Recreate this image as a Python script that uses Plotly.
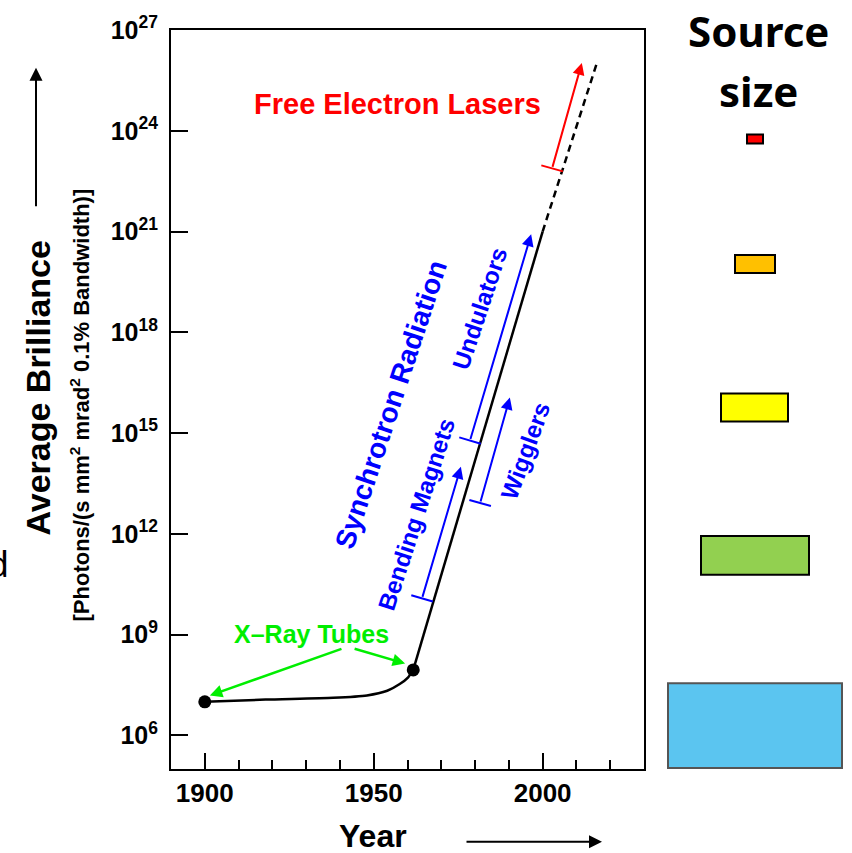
import math
import plotly.graph_objects as go

# ---------------- data ----------------
tube_years = [1900, 1918, 1938, 1948, 1954, 1957.7, 1960.2, 1961.7]
tube_brill = [1.0e7, 1.17e7, 1.32e7, 1.55e7, 2.14e7, 3.39e7, 5.37e7, 8.9e7]

sync_years = [1961.7, 2000]
sync_brill = [8.9e7, 1.0e21]

fel_trend_years = [2000, 2016]
fel_trend_brill = [1.0e21, 1.0e26]

dot_years = [1900, 1961.7]
dot_brill = [1.0e7, 8.9e7]

# arrows: [tail, tip]
bm_years = [1964.3, 1975.8]
bm_brill = [1.2e10, 1.0e14]
und_years = [1978.5, 1996.6]
und_brill = [6.0e14, 8.3e20]
wig_years = [1981.5, 1990.3]
wig_brill = [8.3e12, 1.15e16]
fel_years = [2002.8, 2011.6]
fel_brill = [7.6e22, 1.05e26]

xray_tail_years = [1940.9, 1943.9]
xray_tail_brill = [3.9e8, 3.9e8]
xray_tip_years = [1901.5, 1959.3]
xray_tip_brill = [1.55e7, 1.38e8]

x_tick_vals = [1900, 1950, 2000]
x_tick_text = ["1900", "1950", "2000"]
y_tick_exps = [6, 9, 12, 15, 18, 21, 24, 27]

# ---------------- layout geometry ----------------
W, H = 852, 853
L, R, T, B = 171, 208, 27, 84
PW, PH = W - L - R, H - T - B
XR = [1890, 2030]
YR = [5, 27]
FONT = "Liberation Sans"

def px(x):
    return (x - L) / PW

def py(y):
    return (H - B - y) / PH

BLUE = "#0000ff"
RED = "#ff0000"
GREEN = "#00ee00"

fig = go.Figure()

fig.add_trace(go.Scatter(x=tube_years, y=tube_brill, mode="lines",
                         line=dict(color="black", width=2.5, shape="spline", smoothing=0.6),
                         hoverinfo="skip", showlegend=False))
fig.add_trace(go.Scatter(x=sync_years, y=sync_brill, mode="lines",
                         line=dict(color="black", width=2.5),
                         hoverinfo="skip", showlegend=False))
fig.add_trace(go.Scatter(x=fel_trend_years, y=fel_trend_brill, mode="lines",
                         line=dict(color="black", width=2.5, dash="7px,5px"),
                         hoverinfo="skip", showlegend=False))
fig.add_trace(go.Scatter(x=dot_years, y=dot_brill, mode="markers",
                         marker=dict(color="black", size=13),
                         hoverinfo="skip", showlegend=False))

annotations = []

def add_arrow(xs, ys, color, head_size=1.2, width=2, bar=True):
    annotations.append(dict(
        x=xs[1], y=math.log10(ys[1]), ax=xs[0], ay=math.log10(ys[0]),
        xref="x", yref="y", axref="x", ayref="y", text="",
        showarrow=True, arrowhead=2, arrowsize=head_size, arrowwidth=width,
        arrowcolor=color, standoff=0, startstandoff=0))
    if bar:
        dxp = (xs[1] - xs[0]) * PW / (XR[1] - XR[0])
        dyp = (math.log10(ys[1]) - math.log10(ys[0])) * PH / (YR[1] - YR[0])
        ang = math.degrees(math.atan2(dxp, dyp))
        fig.add_trace(go.Scatter(x=[xs[0]], y=[ys[0]], mode="markers",
                                 marker=dict(symbol="line-ew", size=16, angle=ang,
                                             line=dict(color=color, width=2)),
                                 hoverinfo="skip", showlegend=False))

add_arrow(bm_years, bm_brill, BLUE)
add_arrow(und_years, und_brill, BLUE)
add_arrow(wig_years, wig_brill, BLUE)
add_arrow(fel_years, fel_brill, RED)
for i in range(2):
    add_arrow([xray_tail_years[i], xray_tip_years[i]],
              [xray_tail_brill[i], xray_tip_brill[i]], GREEN,
              head_size=1.0, width=2.5, bar=False)

def text(s, x, y, size, color="black", angle=0, family=FONT):
    annotations.append(dict(text=s, x=px(x), y=py(y), xref="paper", yref="paper",
                            showarrow=False, textangle=angle, xanchor="center", yanchor="middle",
                            font=dict(family=family, size=size, color=color)))

text("<b>Free Electron Lasers</b>", 397, 101, 29, RED)
text("<b>Synchrotron Radiation</b>", 391, 403, 28, BLUE, -71.7)
text("<b>Bending Magnets</b>", 416, 513, 24, BLUE, -72)
text("<b>Undulators</b>", 480, 307, 24, BLUE, -71.6)
text("<b>Wigglers</b>", 525, 450, 24, BLUE, -70)
text("<b>X\u2013Ray Tubes</b>", 311, 633, 25, GREEN)

text("<b>Average Brilliance</b>", 38, 387, 34, "black", -90)
text("<b>[Photons/(s mm<sup>2</sup> mrad<sup>2</sup> 0.1% Bandwidth)]</b>", 80, 404, 22, "black", -90)
text("<b>Year</b>", 373, 836, 32)
text("<b>Source</b>", 758, 28, 42, "black", 0, "Noto Sans")
text("<b>size</b>", 758, 88, 42, "black", 0, "Noto Sans")
annotations.append(dict(text="d", x=px(11), y=py(563), xref="paper", yref="paper",
                        showarrow=False, xanchor="right", yanchor="middle",
                        font=dict(family="Noto Sans", size=36, color="black")))

# axis arrows
annotations.append(dict(x=px(36), y=py(65), xref="paper", yref="paper", ax=0, ay=140,
                        text="", showarrow=True, arrowhead=2, arrowsize=1.3, arrowwidth=2,
                        arrowcolor="black", standoff=0))
annotations.append(dict(x=px(602), y=py(842), xref="paper", yref="paper", ax=-137, ay=0,
                        text="", showarrow=True, arrowhead=2, arrowsize=1.3, arrowwidth=2,
                        arrowcolor="black", standoff=0))

# source-size boxes
boxes = [
    ((747, 132, 763, 141), "#ff0000", "black"),
    ((735, 253, 775, 271), "#ffc000", "black"),
    ((721, 392, 788, 420), "#ffff00", "black"),
    ((701, 535, 809, 574), "#92d050", "black"),
    ((668, 683, 842, 768), "#5bc5f0", "#555555"),
]
shapes = []
for (x0, y0, x1, y1), fc, lc in boxes:
    shapes.append(dict(type="rect", xref="paper", yref="paper",
                       x0=px(x0), x1=px(x1), y0=py(y1), y1=py(y0),
                       fillcolor=fc, line=dict(color=lc, width=2)))

fig.update_layout(
    width=W, height=H, autosize=False,
    margin=dict(l=L, r=R, t=T, b=B, pad=0),
    paper_bgcolor="white", plot_bgcolor="white",
    annotations=annotations, shapes=shapes,
    showlegend=False,
    xaxis=dict(range=XR, showgrid=False, zeroline=False,
               showline=True, linecolor="black", linewidth=2, mirror=True,
               ticks="inside", ticklen=16, tickwidth=2, tickcolor="black",
               tickvals=x_tick_vals, ticktext=["<b>%s</b>" % t for t in x_tick_text],
               tickfont=dict(family=FONT, size=26, color="black"),
               ticklabelstandoff=0,
               minor=dict(dtick=10, tick0=1890, ticks="inside", ticklen=9,
                          tickwidth=2, tickcolor="black")),
    yaxis=dict(type="log", range=YR, showgrid=False, zeroline=False,
               showline=True, linecolor="black", linewidth=2, mirror=True,
               ticks="inside", ticklen=17, tickwidth=2, tickcolor="black",
               tickvals=[10.0 ** e for e in y_tick_exps],
               ticktext=["<b>10<sup>%d</sup></b>" % e for e in y_tick_exps],
               tickfont=dict(family=FONT, size=25, color="black"),
               ticklabelstandoff=6),
)

fig.write_html(
    "out.html",
    config={"displayModeBar": False},
    post_script="document.body.style.margin='0';document.body.style.overflow='hidden';",
)
